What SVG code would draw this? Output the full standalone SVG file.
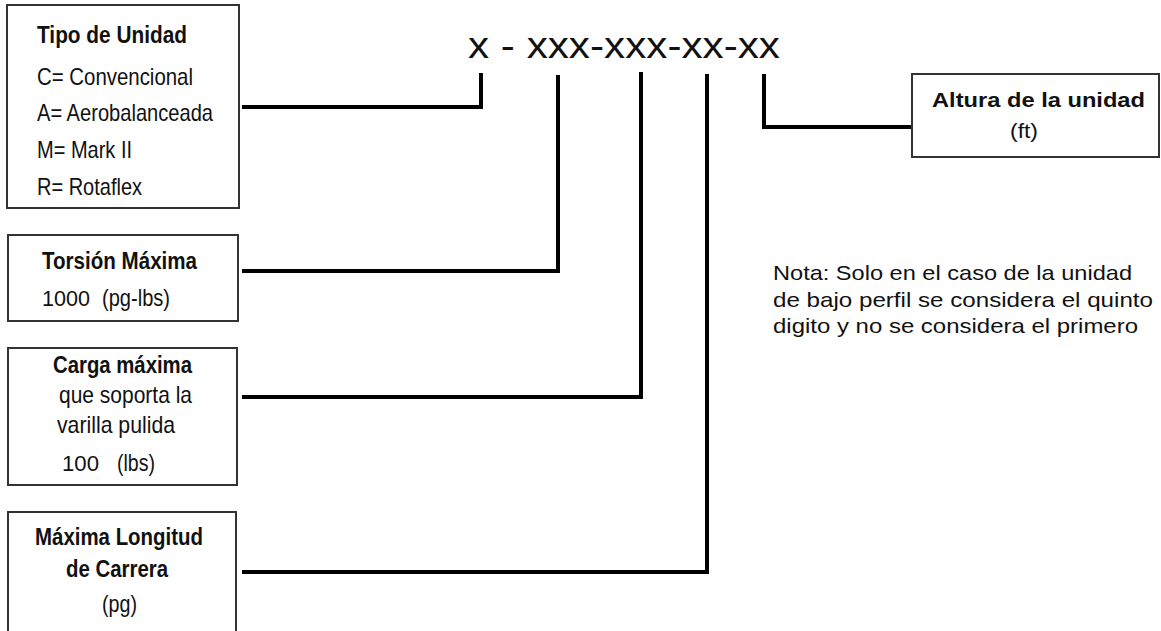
<svg xmlns="http://www.w3.org/2000/svg" width="1161" height="631" viewBox="0 0 1161 631">
<style>
.box{fill:#fff;stroke:#333;stroke-width:2}
.c{fill:none;stroke:#000;stroke-width:4;stroke-linejoin:miter}
.n{font-family:"Liberation Sans",Arial,sans-serif;font-size:24px;fill:#111}
.b{font-family:"Liberation Sans",Arial,sans-serif;font-size:24px;font-weight:bold;fill:#111}
.w{font-family:"Liberation Sans",Arial,sans-serif;font-size:22px;fill:#111}
.k{font-family:"Liberation Sans",Arial,sans-serif;fill:#111}
</style>
<rect width="1161" height="631" fill="#fff"/>
<g id="connectors">
<polyline class="c" points="242,107 481,107 481,73"/>
<polyline class="c" points="242,271 558,271 558,75"/>
<polyline class="c" points="242,397 641,397 641,72"/>
<polyline class="c" points="242,572 707,572 707,74"/>
<polyline class="c" points="764,74 764,127 912,127"/>
</g>
<g id="code">
<text class="k" x="468" y="58" font-size="36" textLength="312" lengthAdjust="spacingAndGlyphs">x - xxx-xxx-xx-xx</text>
</g>
<g id="tipo">
<rect class="box" x="7" y="5" width="232" height="203"/>
<text class="b" x="37" y="43" textLength="150" lengthAdjust="spacingAndGlyphs">Tipo de Unidad</text>
<text class="n" x="37" y="85" textLength="156" lengthAdjust="spacingAndGlyphs">C= Convencional</text>
<text class="n" x="37" y="121" textLength="176" lengthAdjust="spacingAndGlyphs">A= Aerobalanceada</text>
<text class="n" x="37" y="158" textLength="95" lengthAdjust="spacingAndGlyphs">M= Mark II</text>
<text class="n" x="37" y="195" textLength="105" lengthAdjust="spacingAndGlyphs">R= Rotaflex</text>
</g>
<g id="torsion">
<rect class="box" x="8" y="235" width="230" height="86"/>
<text class="b" x="42" y="269" textLength="155" lengthAdjust="spacingAndGlyphs">Torsión Máxima</text>
<text class="w" x="42" y="306" textLength="48" lengthAdjust="spacingAndGlyphs">1000</text>
<text class="n" x="102" y="306" textLength="68" lengthAdjust="spacingAndGlyphs">(pg-lbs)</text>
</g>
<g id="carga">
<rect class="box" x="8" y="348" width="229" height="137"/>
<text class="b" x="53" y="373" textLength="139" lengthAdjust="spacingAndGlyphs">Carga máxima</text>
<text class="n" x="59" y="403" textLength="133" lengthAdjust="spacingAndGlyphs">que soporta  la</text>
<text class="n" x="57" y="433" textLength="118" lengthAdjust="spacingAndGlyphs">varilla  pulida</text>
<text class="w" x="62" y="471" textLength="37" lengthAdjust="spacingAndGlyphs">100</text>
<text class="n" x="117" y="471" textLength="38" lengthAdjust="spacingAndGlyphs">(lbs)</text>
</g>
<g id="longitud">
<rect class="box" x="8" y="512" width="228" height="130"/>
<text class="b" x="35" y="545" textLength="168" lengthAdjust="spacingAndGlyphs">Máxima Longitud</text>
<text class="b" x="66" y="577" textLength="102" lengthAdjust="spacingAndGlyphs">de Carrera</text>
<text class="n" x="102" y="612" textLength="35" lengthAdjust="spacingAndGlyphs">(pg)</text>
</g>
<g id="altura">
<rect class="box" x="912" y="74" width="247" height="83"/>
<text class="k" x="932" y="107" font-size="21" font-weight="bold" textLength="213" lengthAdjust="spacingAndGlyphs">Altura de la unidad</text>
<text class="k" x="1010" y="138" font-size="20" textLength="28" lengthAdjust="spacingAndGlyphs">(ft)</text>
</g>
<g id="nota">
<text class="k" x="773" y="280" font-size="21" textLength="359" lengthAdjust="spacingAndGlyphs">Nota: Solo en el caso de la unidad</text>
<text class="k" x="773" y="307" font-size="21" textLength="380" lengthAdjust="spacingAndGlyphs">de bajo perfil se considera el quinto</text>
<text class="k" x="773" y="333" font-size="21" textLength="365" lengthAdjust="spacingAndGlyphs">digito y no se considera el primero</text>
</g>
</svg>
